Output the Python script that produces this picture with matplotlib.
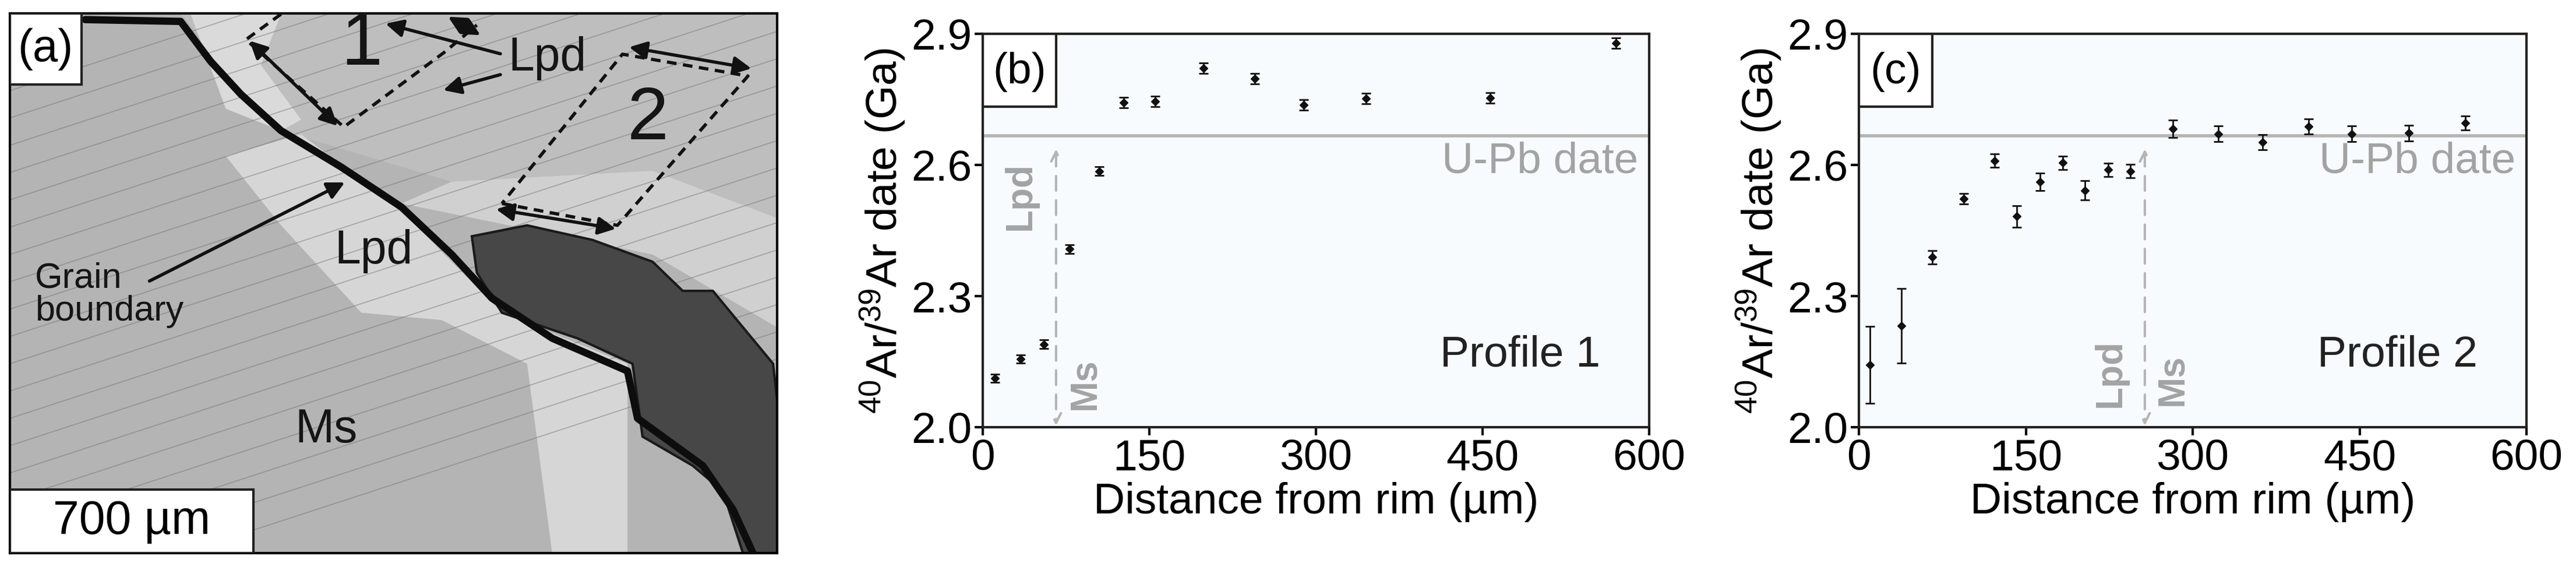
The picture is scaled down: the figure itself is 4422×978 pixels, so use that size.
import numpy as np
import matplotlib
matplotlib.use("Agg")
import matplotlib.pyplot as plt
from matplotlib.patches import Polygon, Rectangle

plt.rcParams['font.family'] = ['Liberation Sans Narrow', 'Liberation Sans', 'DejaVu Sans']
plt.rcParams['mathtext.default'] = 'regular'

# profile 1
dist1 = [11, 34, 55, 78, 105, 127, 155, 199, 245, 289, 345, 457, 570]
age1 = [2.112, 2.156, 2.190, 2.408, 2.586, 2.743, 2.746, 2.821, 2.798, 2.738, 2.752, 2.754, 2.879]
err1 = [0.010, 0.010, 0.010, 0.010, 0.010, 0.012, 0.012, 0.012, 0.012, 0.012, 0.012, 0.012, 0.012]
# profile 2
dist2 = [10, 38, 66, 94, 122, 142, 163, 183, 203, 224, 244, 282, 323, 363, 404, 443, 494, 545]
age2 = [2.143, 2.232, 2.389, 2.523, 2.610, 2.482, 2.561, 2.605, 2.542, 2.589, 2.586,
        2.683, 2.671, 2.652, 2.688, 2.671, 2.673, 2.696]
err2 = [0.088, 0.085, 0.015, 0.012, 0.015, 0.025, 0.020, 0.015, 0.022, 0.015, 0.015,
        0.020, 0.018, 0.018, 0.018, 0.018, 0.018, 0.016]
upb_date = 2.667
boundary1 = 66
boundary2 = 257

W, H = 4422, 979
fig = plt.figure(figsize=(W / 100, H / 100), dpi=100)
fs = 54
grey = '#a3a3a3'

# ---------- (a) sketch of the micrograph ----------
axa = fig.add_axes([17 / W, 1 - 950 / H, 1317 / W, 926 / H])
axa.set_xlim(20, 1548)
axa.set_ylim(1520, 38)
axa.set_xticks([])
axa.set_yticks([])
axa.set_facecolor('#b4b4b4')
for s in axa.spines.values():
    s.set_linewidth(3)

axa.add_patch(Polygon([(360, 40), (1548, 40), (1548, 600), (1300, 470), (900, 500), (560, 360)],
                      closed=True, fc='#bebebe', ec='none', zorder=1))
axa.add_patch(Polygon([(380, 40), (560, 40), (520, 180), (600, 330), (560, 360), (450, 300)],
                      closed=True, fc='#dadada', ec='none', zorder=1))
axa.add_patch(Polygon([(450, 430), (600, 370), (800, 580), (1000, 860), (1250, 1000), (1250, 1520),
                       (1100, 1520), (1050, 1000), (880, 880), (720, 860), (560, 620)],
                      closed=True, fc='#d6d6d6', ec='none', zorder=1))
axa.add_patch(Polygon([(800, 560), (900, 500), (1300, 470), (1548, 600), (1548, 900), (1300, 700)],
                      closed=True, fc='#d0d0d0', ec='none', zorder=1))
for y0 in np.arange(250, 1700, 75):
    axa.plot([20, 1548], [y0, y0 - 0.45 * 1528], color='#707070', lw=1.2, alpha=0.5, zorder=1.5)
axa.add_patch(Polygon([(940, 650), (1050, 620), (1180, 660), (1300, 720), (1360, 800), (1420, 800),
                       (1480, 900), (1540, 1000), (1548, 1100), (1548, 1520), (1480, 1520),
                       (1440, 1350), (1380, 1280), (1280, 1200), (1260, 1000), (1150, 930),
                       (1000, 860), (950, 750)], closed=True, fc='#474747', ec='#1a1a1a', lw=3, zorder=2))
crack = np.array([(170, 55), (360, 60), (420, 170), (480, 260), (560, 360), (680, 460), (800, 570),
                  (900, 700), (980, 820), (1100, 930), (1250, 1020), (1270, 1150), (1400, 1280),
                  (1460, 1400), (1500, 1520)])
axa.plot(crack[:, 0], crack[:, 1], color='#0d0d0d', lw=9, solid_capstyle='round', zorder=3)

dk = dict(color='#111111', lw=4, ls=(0, (3, 2)), zorder=3)
axa.plot([560, 490, 685, 885, 950], [40, 110, 350, 145, 70], **dk)
axa.plot([1000, 1230, 1490, 1240, 1000], [560, 620, 210, 150, 560], **dk)

dbl = dict(arrowstyle='<|-|>', color='#111111', lw=4, mutation_scale=45)
for p, q in [((495, 110), (675, 350)), ((890, 45), (960, 100)),
             ((1250, 130), (1500, 190)), ((985, 575), (1230, 630))]:
    axa.annotate('', xy=p, xytext=q, arrowprops=dbl, zorder=4)
sgl = dict(arrowstyle='-|>', color='#111111', lw=4, mutation_scale=45)
axa.annotate('', xy=(765, 65), xytext=(1000, 150), arrowprops=sgl, zorder=4)
axa.annotate('', xy=(880, 250), xytext=(1000, 205), arrowprops=sgl, zorder=4)
axa.annotate('', xy=(690, 500), xytext=(295, 775), arrowprops=sgl, zorder=4)

axa.text(720, 125, '1', fontsize=92, ha='center', va='center', color='#151515', zorder=5)
axa.text(1290, 330, '2', fontsize=92, ha='center', va='center', color='#151515', zorder=5)
axa.text(1090, 160, 'Lpd', fontsize=58, ha='center', va='center', color='#151515', zorder=5)
axa.text(745, 690, 'Lpd', fontsize=58, ha='center', va='center', color='#151515', zorder=5)
axa.text(650, 1180, 'Ms', fontsize=58, ha='center', va='center', color='#151515', zorder=5)
axa.text(70, 810, 'Grain\nboundary', fontsize=44, ha='left', va='center', linespacing=1.0,
         color='#151515', zorder=5)
axa.add_patch(Rectangle((20, 38), 143, 195, fc='white', ec='#222222', lw=3, zorder=6))
axa.text(90, 135, '(a)', fontsize=56, ha='center', va='center', zorder=7)
axa.add_patch(Rectangle((20, 1345), 485, 175, fc='white', ec='#222222', lw=3, zorder=6))
axa.text(262, 1432, '700 µm', fontsize=58, ha='center', va='center', zorder=7)


# ---------- (b), (c) profiles ----------
def profile(rect, dist, age, err, boundary, tag, name, lpd_xy, ms_xy):
    ax = fig.add_axes(rect)
    ax.set_facecolor('#f7fbfd')
    ax.set_xlim(0, 600)
    ax.set_ylim(2.0, 2.9)
    ax.set_xticks([0, 150, 300, 450, 600])
    ax.set_yticks([2.0, 2.3, 2.6, 2.9])
    ax.yaxis.set_major_formatter(matplotlib.ticker.FormatStrFormatter('%.1f'))
    ax.tick_params(labelsize=fs, width=3, length=10, direction='out')
    for s in ax.spines.values():
        s.set_linewidth(3)
        s.set_color('#222222')
    ax.axhline(upb_date, color='#b5b5b5', lw=4)
    ax.annotate('', xy=(boundary, 2.0), xytext=(boundary, 2.64),
                arrowprops=dict(arrowstyle='<->', color='#b5b5b5', lw=3, ls=(0, (6, 4)), mutation_scale=30))
    ax.errorbar(dist, age, yerr=err, fmt='D', color='#111111', ms=7, capsize=6,
                elinewidth=2, capthick=2)
    ax.text(590, 2.655, 'U-Pb date', fontsize=fs, color=grey, ha='right', va='top')
    ax.text(556, 2.167, name, fontsize=fs, ha='right', va='center', color='#222222')
    ax.text(lpd_xy[0], lpd_xy[1], 'Lpd', fontsize=46, color=grey, rotation=90,
            ha='center', va='center', fontweight='bold')
    ax.text(ms_xy[0], ms_xy[1], 'Ms', fontsize=46, color=grey, rotation=90,
            ha='center', va='center', fontweight='bold')
    ax.add_patch(Rectangle((0, 0.815), 0.11, 0.185, transform=ax.transAxes, fc='white',
                           ec='#222222', lw=3, zorder=5))
    ax.text(0.055, 0.905, tag, transform=ax.transAxes, fontsize=fs, ha='center', va='center', zorder=6)
    ax.set_xlabel('Distance from rim (µm)', fontsize=fs, labelpad=4)
    ax.set_ylabel('$^{40}$Ar/$^{39}$Ar date (Ga)', fontsize=fs, labelpad=4)
    return ax


profile([1687 / W, 1 - 734 / H, 1144 / W, 675 / H], dist1, age1, err1, boundary1,
        '(b)', 'Profile 1', (34, 2.53), (92, 2.1))
profile([3191 / W, 1 - 734 / H, 1146 / W, 675 / H], dist2, age2, err2, boundary2,
        '(c)', 'Profile 2', (226, 2.125), (282, 2.11))

fig.savefig('out.png', dpi=100)
